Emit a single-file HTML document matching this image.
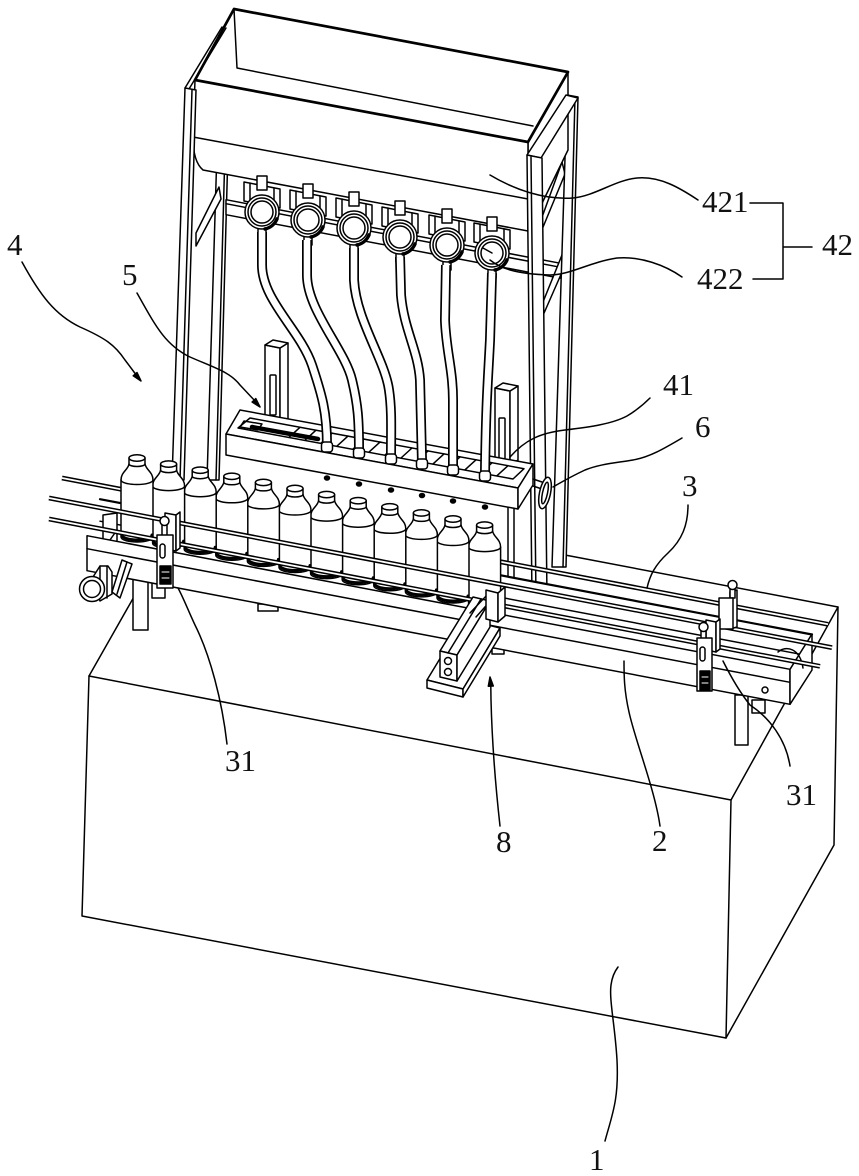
<!DOCTYPE html>
<html><head><meta charset="utf-8"><style>
html,body{margin:0;padding:0;background:#fff;}
svg{display:block;}
text{font-family:"Liberation Serif","DejaVu Serif",serif;font-size:31px;fill:#111;}
</style></head><body>
<svg width="859" height="1176" viewBox="0 0 859 1176" xmlns="http://www.w3.org/2000/svg">
<defs>
 <g id="bt">
  <path d="M-8,3 L-8,9 C-9,15 -16,17 -16,25 L-16,82 A16,5 0 0 0 16,82 L16,25 C16,17 9,15 8,9 L8,3 Z" fill="#fff"/>
  <path d="M-8,9 A8,2.5 0 0 0 8,9 M-16,25 A16,4.5 0 0 0 16,25"/>
  <ellipse cx="0" cy="3" rx="8" ry="3.2" fill="#fff"/>
  <path d="M-15,80 A15,5 0 0 0 15,80" stroke-width="3"/>
 </g>
 <g id="ga">
  <polygon points="-18,-30 18,-23 18,-4 -18,-11" fill="#fff"/>
  <path d="M-12,-29 L-12,-12 M12,-24 L12,-7"/>
  <rect x="-5" y="-36" width="10" height="14" fill="#fff"/>
  <rect x="-4" y="14" width="8" height="11" fill="#fff"/>
  <circle r="17" fill="#fff"/>
  <circle r="14"/>
  <circle r="11"/>
  <path d="M15,7 A17,17 0 0 1 3,17" stroke-width="3.5"/>
 </g>
 <path id="r1" d="M62,478 L828,624.3"/>
 <path id="r2" d="M49,498 L832,647.6"/>
 <path id="r3" d="M49,519 L820,666.3"/>
 <g id="hs">
  <path d="M262,232 L262,265 C262,300 300,330 312,365 C322,395 327,412 327,446"/>
  <path d="M307,240 L307,275 C307,310 345,350 352,380 C358,405 359,420 359,451"/>
  <path d="M354,248 L354,280 C356,320 385,360 389,390 C392,410 391,430 391,457"/>
  <path d="M400,257 L401,295 C404,330 418,350 420,380 L422,462"/>
  <path d="M446,265 L445,320 C446,350 453,370 453,400 L453,468"/>
  <path d="M492,273 L490,340 C488,380 486,400 485,474"/>
 </g>
</defs>
<g fill="none" stroke="#000" stroke-width="1.5" stroke-linejoin="round" stroke-linecap="round">

<!-- base box -->
<path d="M89,676 L731,800 L726,1038 L82,916 Z"/>
<path d="M89,676 L135,595"/>
<path d="M731,800 L838,607 L834,845 L726,1038"/>
<path d="M565,555 L838,607"/>

<!-- back-left post -->
<polygon points="217,150 228,150 219,480 207,480" fill="#fff"/>
<path d="M225,150 L216,480"/>
<!-- left brace -->
<polygon points="196,233 219,187 221,199 196,246" fill="#fff"/>

<!-- gauge bar -->
<polygon points="226,199.7 560,263.2 560,278.2 226,214.7" fill="#fff"/>
<path d="M226,203.7 L560,267.2"/>

<!-- right braces -->
<polygon points="541,232 541,220 562,162 565,174" fill="#fff"/>
<polygon points="541,320 541,307 564,250 566,263" fill="#fff"/>

<!-- back-right post -->
<polygon points="567,95 578,97 566,567 552,567" fill="#fff"/>
<path d="M575,97 L563,567"/>

<!-- hopper -->
<polygon points="528,142 568,72 568,150 528,232" fill="#fff"/>
<path d="M234,9 L237,68 L533,126"/>
<path d="M195,80 L528,142 L528,231 L203,170 C197,165 193,155 193,137 Z" fill="#fff"/>
<path d="M193,137 L528,199"/>
<path d="M234,9 L568,72 L528,142 L195,80 Z" stroke-width="2.7"/>

<!-- right top beam and front-right post -->
<polygon points="527,155 541,158 578,98 566,95" fill="#fff"/>
<polygon points="527,155 542,158 547,598 532,598" fill="#fff"/>
<path d="M531,157 L536,598"/>
<path d="M508,505 L508,590 M514,506 L514,590"/>

<!-- left top beam and front-left post -->
<path d="M185,88 L222,27 M189,89 L226,28"/>
<polygon points="185,88 196,90 184,480 172,480" fill="#fff"/>
<path d="M192,90 L180,480"/>

<!-- gauges -->
<use href="#ga" x="262" y="212"/>
<use href="#ga" x="308" y="220"/>
<use href="#ga" x="354" y="228"/>
<use href="#ga" x="400" y="237"/>
<use href="#ga" x="447" y="245"/>
<use href="#ga" x="492" y="253"/>
<path d="M492,253 L483,248"/>

<!-- guides -->
<polygon points="265,345 280,348 280,425 265,422" fill="#fff"/>
<polygon points="280,348 288,343 288,420 280,425" fill="#fff"/>
<polygon points="265,345 273,340 288,343 280,348" fill="#fff"/>
<rect x="270" y="375" width="6" height="40" rx="1"/>
<polygon points="495,388 510,391 510,465 495,462" fill="#fff"/>
<polygon points="510,391 518,386 518,460 510,465" fill="#fff"/>
<polygon points="495,388 503,383 518,386 510,391" fill="#fff"/>
<rect x="499" y="418" width="6" height="44" rx="1"/>

<!-- tray 41 -->
<path d="M240,410 L533,464 L518,488 L226,434 Z" fill="#fff"/>
<path d="M226,434 L518,488 L518,509 L226,455 Z" fill="#fff"/>
<path d="M518,488 L533,464 L533,485 L518,509 Z" fill="#fff"/>
<path d="M250,418 L524,468.7 L513,479 L238,428 Z"/>
<path d="M300,427.3 L289,437.3 M316,430.2 L305,440.2 M332,433.2 L321,443.2 M348,436.1 L337,446.1 M364,439.1 L353,449.1 M380,442.1 L369,452.1 M396,445 L385,455 M412,448 L401,458 M428,450.9 L417,460.9 M444,453.9 L433,463.9 M460,456.9 L449,466.9 M476,459.8 L465,469.8 M492,462.8 L481,472.8 M508,465.7 L497,475.7"/>
<path d="M252,427 L318,439" stroke-width="4.5"/>
<path d="M244,421 L262,424 L258,430 L240,427 Z"/>
<g fill="#000">
<ellipse cx="327" cy="478" rx="2.5" ry="2"/>
<ellipse cx="359" cy="484" rx="2.5" ry="2"/>
<ellipse cx="391" cy="490" rx="2.5" ry="2"/>
<ellipse cx="422" cy="495.5" rx="2.5" ry="2"/>
<ellipse cx="453" cy="501" rx="2.5" ry="2"/>
<ellipse cx="485" cy="507" rx="2.5" ry="2"/>
</g>

<!-- hoses -->
<use href="#hs" stroke="#000" stroke-width="10" stroke-linecap="butt"/>
<use href="#hs" stroke="#fff" stroke-width="6.6" stroke-linecap="butt"/>
<g fill="#fff">
<rect x="321.5" y="442" width="11" height="10" rx="3"/>
<rect x="353.5" y="448" width="11" height="10" rx="3"/>
<rect x="385.5" y="454" width="11" height="10" rx="3"/>
<rect x="416.5" y="459" width="11" height="10" rx="3"/>
<rect x="447.5" y="465" width="11" height="10" rx="3"/>
<rect x="479.5" y="471" width="11" height="10" rx="3"/>
</g>

<!-- handwheel 6 -->
<path d="M533,479 L542,482 M533,486 L542,489"/>
<ellipse cx="545" cy="493" rx="5.5" ry="16" fill="#fff" transform="rotate(12 545 493)"/>
<ellipse cx="545" cy="493" rx="2.5" ry="11" transform="rotate(12 545 493)"/>

<!-- conveyor back body -->
<polygon points="100,499.2 812,634.5 812,670 790,704.3 87,570.7 87,536" fill="#fff" stroke="none"/>
<path d="M100,499.2 L812,634.5" stroke-width="2.2"/>
<path d="M100,521.2 L800,654.2"/>
<polygon points="103,515 117,513 117,545 103,547" fill="#fff"/>
<path d="M105,547 L117,530"/>
<use href="#r1" stroke="#000" stroke-width="4.8" stroke-linecap="butt"/>
<use href="#r1" stroke="#fff" stroke-width="1.8" stroke-linecap="butt"/>

<!-- bottles -->
<use href="#bt" x="484.6" y="522.1"/>
<use href="#bt" x="453" y="516"/>
<use href="#bt" x="421.4" y="509.9"/>
<use href="#bt" x="389.8" y="503.8"/>
<use href="#bt" x="358.2" y="497.7"/>
<use href="#bt" x="326.6" y="491.6"/>
<use href="#bt" x="295" y="485.5"/>
<use href="#bt" x="263.4" y="479.4"/>
<use href="#bt" x="231.8" y="473.3"/>
<use href="#bt" x="200.2" y="467.2"/>
<use href="#bt" x="168.6" y="461.1"/>
<use href="#bt" x="137" y="455"/>

<!-- legs and tabs -->
<polygon points="133,578 148,578 148,630 133,630" fill="#fff"/>
<polygon points="152,583 165,583 165,598 152,598" fill="#fff"/>
<polygon points="735,695 748,695 748,745 735,745" fill="#fff"/>
<polygon points="752,700 765,700 765,713 752,713" fill="#fff"/>
<rect x="258" y="604" width="20" height="7" fill="#fff"/>
<rect x="492" y="648" width="12" height="6" fill="#fff"/>

<!-- conveyor front face -->
<polygon points="87,535.7 790,669.3 790,704.3 87,570.7" fill="#fff"/>
<path d="M87,548.7 L790,682.3"/>
<polygon points="790,669.3 812,634 812,670 790,704.3" fill="#fff"/>
<path d="M778,652 C786,645 800,648 803,668"/>
<circle cx="765" cy="690" r="3"/>

<!-- front rods -->
<use href="#r2" stroke="#000" stroke-width="4.8" stroke-linecap="butt"/>
<use href="#r2" stroke="#fff" stroke-width="1.8" stroke-linecap="butt"/>
<use href="#r3" stroke="#000" stroke-width="4.8" stroke-linecap="butt"/>
<use href="#r3" stroke="#fff" stroke-width="1.8" stroke-linecap="butt"/>

<!-- motor -->
<polygon points="93,577 100,566 108,566 112,572 112,594 100,601" fill="#fff"/>
<path d="M100,566 L100,598 M107,566 L107,598"/>
<circle cx="92" cy="589" r="12.5" fill="#fff"/>
<circle cx="92" cy="589" r="8.5"/>
<polygon points="112,592 122,560 132,564 120,598" fill="#fff"/>
<path d="M117,594 L127,562"/>

<!-- clamps 31 -->
<polygon points="165,513 176,515 176,551 165,549" fill="#fff"/>
<polygon points="176,515 180,512 180,548 176,551" fill="#fff"/>
<rect x="162" y="524" width="5" height="12" fill="#fff"/>
<circle cx="164.5" cy="521" r="4.5" fill="#fff"/>
<rect x="157" y="535" width="16" height="53" fill="#fff"/>
<rect x="160" y="544" width="5" height="14" rx="2.5"/>
<rect x="160" y="566" width="11" height="18" fill="#000"/>
<path d="M162,572 L169,572 M162,578 L169,578" stroke="#fff" stroke-width="1"/>

<polygon points="730,592 737,590 737,627 730,629" fill="#fff"/>
<rect x="730" y="588" width="5" height="10" fill="#fff"/>
<circle cx="732.5" cy="585" r="4.5" fill="#fff"/>
<rect x="719" y="598" width="14" height="31" fill="#fff"/>

<polygon points="706,620 716,622 716,652 706,650" fill="#fff"/>
<polygon points="716,622 720,619 720,649 716,652" fill="#fff"/>
<rect x="701" y="630" width="5" height="10" fill="#fff"/>
<circle cx="703.5" cy="627" r="4.5" fill="#fff"/>
<rect x="697" y="638" width="15" height="53" fill="#fff"/>
<rect x="700" y="647" width="5" height="14" rx="2.5"/>
<rect x="700" y="671" width="10" height="19" fill="#000"/>
<path d="M702,677 L708,677 M702,683 L708,683" stroke="#fff" stroke-width="1"/>

<!-- bracket 8 -->
<polygon points="427,680 463,689 500,628 464,619" fill="#fff"/>
<polygon points="427,680 463,689 463,697 427,688" fill="#fff"/>
<polygon points="463,689 500,628 500,636 463,697" fill="#fff"/>
<polygon points="440,651 457,655 490,601 473,597" fill="#fff"/>
<polygon points="440,651 457,655 457,681 440,677" fill="#fff"/>
<polygon points="457,655 490,601 490,627 457,681" fill="#fff"/>
<path d="M448,653 L481,599"/>
<circle cx="448" cy="661" r="3.5"/>
<circle cx="448" cy="672" r="3.5"/>
<path d="M470,613 L488,594 M476,617 L493,598"/>
<polygon points="486,590 498,593 498,622 486,619" fill="#fff"/>
<polygon points="498,593 505,587 505,616 498,622" fill="#fff"/>

<!-- leaders -->
<path d="M22,262 C40,295 55,315 80,327 C105,338 115,345 125,360 L137,376"/>
<polygon points="141,381 133.2,375.8 137,372.6" fill="#000"/>
<path d="M137,293 C155,325 165,345 190,357 C215,368 230,372 240,385 L256,402"/>
<polygon points="260,407 252.1,402 255.8,398.6" fill="#000"/>
<path d="M500,826 C496,790 492,740 491,700 L490.8,686"/>
<polygon points="490,677 493.3,686 488.3,686.2" fill="#000"/>
<path d="M660,826 C655,790 635,740 629,712 C624,690 624,675 624,661"/>
<path d="M605,1141 C612,1115 619,1100 617,1060 C615,1025 609,1000 611,985 C612,977 615,971 618,967"/>
<path d="M227,744 C222,700 210,655 195,625 C188,610 183,597 178,588"/>
<path d="M790,766 C786,740 770,718 750,705 C738,690 730,675 723,661"/>
<path d="M688,505 C688,525 682,540 668,553 C655,565 650,575 647,588"/>
<path d="M490,175 C515,190 545,200 573,198 C595,196 615,180 637,178 C660,176 680,188 698,200"/>
<path d="M490,260 C500,268 515,274 550,275 C570,275 590,262 617,258 C640,256 665,265 682,277"/>
<path d="M510,457 C525,440 540,433 565,430 C590,427 612,424 627,416 C637,410 644,404 650,398"/>
<path d="M682,438 C665,448 650,457 633,460 C615,463 600,464 585,470 C570,477 560,483 553,487"/>
<path d="M750,203 L783,203 L783,279 L753,279 M783,247 L812,247"/>
</g>

<!-- labels -->
<text x="7" y="255">4</text>
<text x="122" y="285">5</text>
<text x="702" y="212">421</text>
<text x="697" y="289">422</text>
<text x="822" y="255">42</text>
<text x="663" y="395">41</text>
<text x="695" y="437">6</text>
<text x="682" y="496">3</text>
<text x="225" y="771">31</text>
<text x="786" y="805">31</text>
<text x="496" y="852">8</text>
<text x="652" y="851">2</text>
<text x="589" y="1170">1</text>
</svg>
</body></html>
